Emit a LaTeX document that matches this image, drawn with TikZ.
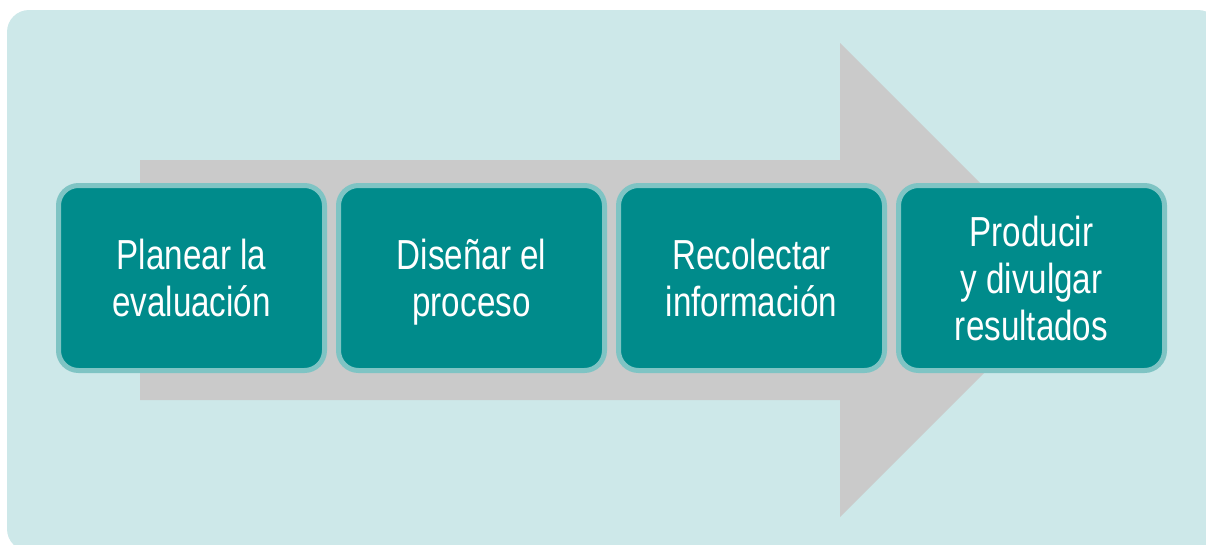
\documentclass[tikz,border=0pt]{standalone}
\usepackage{fontspec}
\setmainfont{Liberation Sans}[FakeStretch=0.79]
\definecolor{bgteal}{RGB}{205,232,233}
\definecolor{arrowgray}{RGB}{202,202,202}
\definecolor{boxfill}{RGB}{0,139,139}
\definecolor{boxline}{RGB}{127,196,196}
\tikzset{
  stepbox/.style={draw=boxline, fill=boxfill, line width=5pt, rounded corners=20pt,
    minimum width=266pt, minimum height=185pt, inner sep=0pt, align=center,
    text=white, text depth=0pt, font=\fontsize{42}{47}\selectfont},
}
\begin{document}
\begin{tikzpicture}[x=1pt,y=-1pt]
\useasboundingbox (0,0) rectangle (1206,544);
\begin{scope}
\clip (0,0) rectangle (1206,544);
\fill[bgteal, rounded corners=22pt] (7,10) rectangle (1220,551);
\end{scope}
\fill[arrowgray] (140,160) -- (840,160) -- (840,43) -- (1077,280) -- (840,517) -- (840,400) -- (140,400) -- cycle;
\node[stepbox] (s1) at (191.5,278) {Planear la\\evaluación};
\node[stepbox] (s2) at (471.5,278) {Diseñar el\\proceso};
\node[stepbox] (s3) at (751.5,278) {Recolectar\\información};
\node[stepbox] (s4) at (1031.5,278) {Producir\\y divulgar\\resultados};
\end{tikzpicture}
\end{document}
